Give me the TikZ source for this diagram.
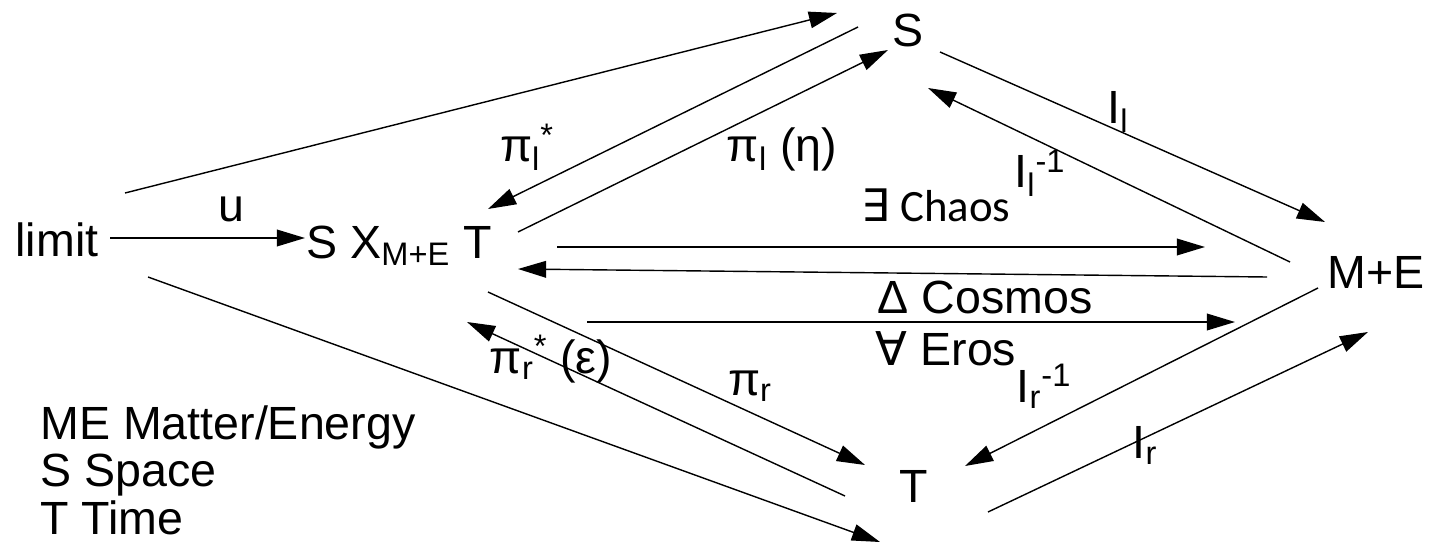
\documentclass[tikz,border=0pt]{standalone}
\usepackage{fontspec}
\setmainfont{Liberation Sans}
\newfontfamily\chaosfont{Carlito}
\newfontfamily\quantfont{DejaVu Sans}
\usetikzlibrary{arrows.meta, calc}

\begin{document}
\begin{tikzpicture}[
x=0.02cm, y=-0.02cm,
obj/.style={inner sep=0pt, anchor=base, font=\fontsize{26.5}{27.2}\selectfont},
lbl/.style={obj},
arrow/.style={-{Triangle[length=16pt, width=9.5pt]}, line width=0.8pt}
]
\useasboundingbox (0,0) rectangle (1433,547);

% objects
\node[obj] (lim) at (57,256) {limit};
\node[obj] (prod) at (399,258) {S X\textsubscript{M+E} T};
\node[obj] (S) at (908,47) {S};
\node[obj] (ME) at (1376,288) {M+E};
\node[obj] (T) at (914,502) {T};
\node[obj, anchor=north west, align=left] (legend) at (40,405) {ME Matter/Energy\\S Space\\T Time};

% maps out of the limit
\draw[arrow] ($(lim.base)+(53,-18)$) -- ($(prod.base)+(-94,-20)$);
\draw[arrow] ($(lim.base)+(68,-63)$) -- ($(S.base)+(-71,-34)$);
\draw[arrow] ($(lim.base)+(91,21)$) -- ($(T.base)+(-34,40)$);

% projections
\draw[arrow] ($(S.base)+(-50,-20)$) -- ($(prod.base)+(89,-49)$);
\draw[arrow] ($(prod.base)+(119,-26)$) -- ($(S.base)+(-20,3)$);
\draw[arrow] ($(T.base)+(-69,-6)$) -- ($(prod.base)+(68,64)$);
\draw[arrow] ($(prod.base)+(89,34)$) -- ($(T.base)+(-49,-37)$);

% inclusions
\draw[arrow] ($(S.base)+(32,5)$) -- ($(ME.base)+(-51,-66)$);
\draw[arrow] ($(ME.base)+(-86,-26)$) -- ($(S.base)+(20,41)$);
\draw[arrow] ($(ME.base)+(-58,0)$) -- ($(T.base)+(51,-36)$);
\draw[arrow] ($(T.base)+(74,10)$) -- ($(ME.base)+(-8,44)$);

% middle
\draw[arrow] ($(prod.base)+(158,-11)$) -- ($(ME.base)+(-171,-41)$);
\draw[arrow] ($(ME.base)+(-109,-11)$) -- ($(prod.base)+(119,11)$);
\draw[arrow] ($(prod.base)+(188,64)$) -- ($(ME.base)+(-141,34)$);

% labels
\node[lbl] (u) at (231,222) {u};
\node[lbl] (pil) at (527,162) {π\textsubscript{l}\textsuperscript{*}};
\node[lbl] (pileta) at (782,162) {π\textsubscript{l} (η)};
\node[lbl] (Il) at (1118,124) {I\textsubscript{l}};
\node[lbl] (Ilinv) at (1040,188) {I\textsubscript{l}\textsuperscript{-1}};
\node[lbl, font=\chaosfont\fontsize{25.5}{25.5}\selectfont] (chaos) at (936,222) {{\quantfont ∃} Chaos};
\node[lbl] (cosmos) at (985,313) {Δ Cosmos};
\node[lbl] (eros) at (946,365) {{\quantfont ∀} Eros};
\node[lbl] (pirs) at (551,373) {π\textsubscript{r}\textsuperscript{*} (ε)};
\node[lbl] (pir) at (750,395) {π\textsubscript{r}};
\node[lbl] (Irinv) at (1044,402) {I\textsubscript{r}\textsuperscript{-1}};
\node[lbl] (Ir) at (1145,458) {I\textsubscript{r}};
\end{tikzpicture}
\end{document}
